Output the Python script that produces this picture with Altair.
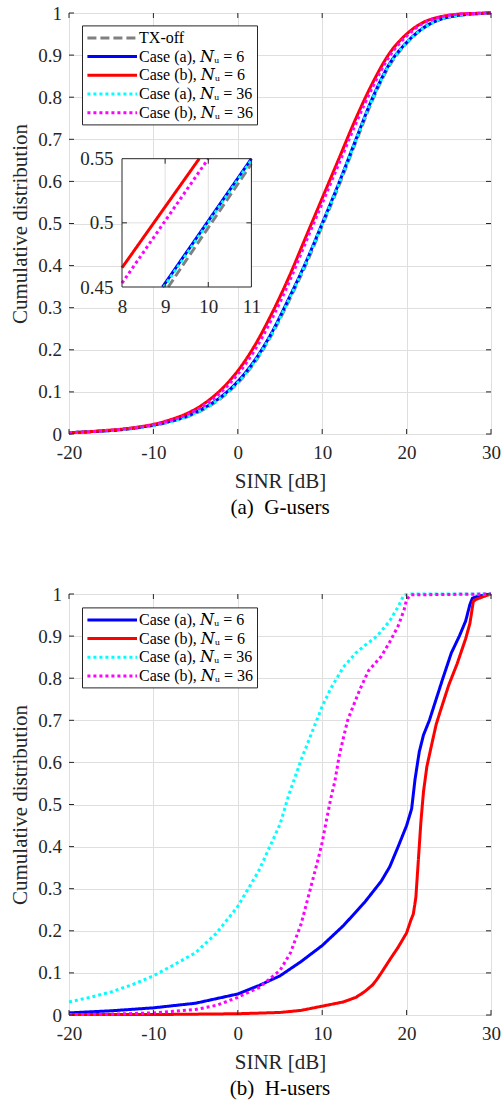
import altair as alt
import pandas as pd

# ---------------- values ----------------
X_TICKS = [-20, -10, 0, 10, 20, 30]
Y_TICKS = [0, 0.1, 0.2, 0.3, 0.4, 0.5, 0.6, 0.7, 0.8, 0.9, 1]
INSET_X_TICKS = [8, 9, 10, 11]
INSET_Y_TICKS = [0.45, 0.5, 0.55]

S_TX = "TX-off"
S_A6 = "Case (a), 𝑁ᵤ = 6"
S_B6 = "Case (b), 𝑁ᵤ = 6"
S_A36 = "Case (a), 𝑁ᵤ = 36"
S_B36 = "Case (b), 𝑁ᵤ = 36"

# (a) G-users : CDF values on a common SINR grid
G_X = [-20, -18, -16, -14, -12, -10, -8, -6, -4, -2, 0, 2, 4, 6, 8, 10,
       12, 14, 16, 18, 20, 22, 24, 26, 28, 30]
G_TXOFF = [0.003, 0.005, 0.007, 0.010, 0.014, 0.020, 0.029, 0.041, 0.059, 0.085,
           0.121, 0.170, 0.235, 0.314, 0.399, 0.494, 0.591, 0.694, 0.795, 0.876,
           0.928, 0.964, 0.985, 0.994, 0.998, 1.0]
G_A6 = [0.003, 0.005, 0.007, 0.010, 0.015, 0.021, 0.030, 0.043, 0.062, 0.088,
        0.125, 0.175, 0.240, 0.320, 0.405, 0.500, 0.597, 0.700, 0.800, 0.880,
        0.930, 0.965, 0.985, 0.994, 0.998, 1.0]
G_B6 = [0.003, 0.005, 0.008, 0.011, 0.016, 0.023, 0.034, 0.049, 0.072, 0.105,
        0.150, 0.210, 0.285, 0.370, 0.465, 0.560, 0.655, 0.750, 0.835, 0.905,
        0.950, 0.978, 0.991, 0.997, 0.999, 1.0]
G_A36 = [0.003, 0.005, 0.007, 0.010, 0.014, 0.020, 0.029, 0.042, 0.060, 0.086,
         0.122, 0.172, 0.237, 0.317, 0.403, 0.498, 0.595, 0.698, 0.798, 0.878,
         0.929, 0.964, 0.985, 0.994, 0.998, 1.0]
G_B36 = [0.003, 0.005, 0.007, 0.011, 0.015, 0.022, 0.032, 0.046, 0.068, 0.099,
         0.142, 0.199, 0.272, 0.357, 0.453, 0.548, 0.643, 0.738, 0.825, 0.898,
         0.945, 0.976, 0.990, 0.997, 0.999, 1.0]

# inset of (a): zoom 8..11 dB, 0.45..0.55
IN_TX_X = [9.07, 11.0]
IN_TX_F = [0.45, 0.546]
IN_A6_X = [8.94, 11.0]
IN_A6_F = [0.45, 0.55]
IN_B6_X = [8.0, 9.79]
IN_B6_F = [0.465, 0.55]
IN_A36_X = [8.97, 11.0]
IN_A36_F = [0.45, 0.549]
IN_B36_X = [8.0, 10.0]
IN_B36_F = [0.453, 0.55]

# (b) H-users
H_A6_X = [-20, -15, -10, -5, 0, 2.5, 5, 7.5, 10, 12.5, 15, 17, 18, 19, 20, 20.6,
          21.0, 21.5, 22.0, 22.7, 24.3, 25.3, 26.25, 27.0, 27.5, 27.8, 28.5, 30]
H_A6_F = [0.005, 0.010, 0.017, 0.028, 0.050, 0.070, 0.093, 0.127, 0.165, 0.212,
          0.267, 0.318, 0.352, 0.400, 0.450, 0.490, 0.560, 0.625, 0.665, 0.700,
          0.800, 0.860, 0.900, 0.936, 0.975, 0.990, 0.995, 1.0]
H_B6_X = [-20, -10, 0, 5, 7.5, 10, 12.5, 14, 15, 16, 16.5, 17, 18, 19, 20, 20.5,
          20.8, 21.1, 21.4, 21.7, 22.0, 22.4, 23.0, 23.5, 24, 25, 26, 27, 27.5,
          27.9, 28.2, 29, 30]
H_B6_F = [0.001, 0.001, 0.003, 0.006, 0.011, 0.021, 0.031, 0.042, 0.055, 0.072,
          0.085, 0.100, 0.131, 0.161, 0.195, 0.225, 0.240, 0.280, 0.370, 0.460,
          0.530, 0.590, 0.645, 0.690, 0.722, 0.784, 0.835, 0.894, 0.930, 0.982,
          0.987, 0.993, 1.0]
H_A36_X = [-20, -17.5, -15, -12.5, -10, -7.5, -5, -2.5, 0, 2.5, 5, 6, 7.5, 8.5, 10,
           11, 12.5, 14, 15, 16.5, 18, 19, 19.7, 20.5, 30]
H_A36_F = [0.031, 0.042, 0.055, 0.072, 0.093, 0.120, 0.148, 0.195, 0.258, 0.343,
           0.453, 0.520, 0.606, 0.657, 0.733, 0.775, 0.826, 0.860, 0.877, 0.900,
           0.936, 0.970, 0.998, 1.0, 1.0]
H_B36_X = [-20, -15, -10, -5, -2.5, 0, 2.5, 5, 6.25, 7.5, 8.5, 9.5, 10, 10.5, 11,
           11.5, 12, 12.5, 13, 13.5, 14.5, 15.5, 17, 18, 19, 19.7, 20, 20.5, 30]
H_B36_F = [0.001, 0.002, 0.005, 0.013, 0.023, 0.042, 0.065, 0.106, 0.148, 0.216,
           0.292, 0.369, 0.410, 0.462, 0.513, 0.555, 0.614, 0.657, 0.699, 0.725,
           0.775, 0.818, 0.852, 0.886, 0.924, 0.962, 0.987, 0.998, 1.0]

# ---------------- styles ----------------
SERIF = "Liberation Serif"
LEG_FONT = "Liberation Serif, DejaVu Serif"
INK = "#262626"
GRID = "#dfdfdf"
COLOR = {S_TX: "#808080", S_A6: "#0000ff", S_B6: "#ff0000",
         S_A36: "#00ffff", S_B36: "#ff00ff"}
DASH = {S_TX: [9, 4], S_A6: [1, 0], S_B6: [1, 0], S_A36: [3, 3], S_B36: [3, 3]}
LW = 3
PLOT_W, PLOT_H = 422, 421
TICK_PX = 5
LABEL_FS = 19
TITLE_FS = 21
# inset rectangle inside panel (a), pixels from plot origin
IN_L, IN_R, IN_T, IN_B = 53, 182.4, 145.7, 274


def long_df(items):
    rows = []
    for name, xs, fs in items:
        for x, f in zip(xs, fs):
            rows.append({"series": name, "x": x, "F": f})
    return pd.DataFrame(rows)


def edge_ticks(xt, yt, xd, yd, w, h):
    xl = TICK_PX * (xd[1] - xd[0]) / w
    yl = TICK_PX * (yd[1] - yd[0]) / h
    rows = []
    for t in xt:
        rows.append({"x": t, "x2": t, "y": yd[0], "y2": yd[0] + yl})
        rows.append({"x": t, "x2": t, "y": yd[1], "y2": yd[1] - yl})
    for t in yt:
        rows.append({"x": xd[0], "x2": xd[0] + xl, "y": t, "y2": t})
        rows.append({"x": xd[1], "x2": xd[1] - xl, "y": t, "y2": t})
    return pd.DataFrame(rows)


def make_legend(y):
    return alt.Legend(
        title=None, orient="none", legendX=13, legendY=y,
        symbolType="M-3.2,0H3.2", symbolSize=240, symbolStrokeWidth=LW,
        symbolOffset=17.7, labelOffset=17.4,
        labelFont=LEG_FONT, labelFontSize=16, labelColor="black",
        strokeColor=INK, fillColor="white", padding=3, rowPadding=0.7,
        cornerRadius=0, labelLimit=0,
    )


def axis(values, **kw):
    return alt.Axis(values=values, domain=False, ticks=False, tickSize=0,
                    labelFlush=False, labelOverlap=False,
                    labelExpr="'' + datum.value",
                    labelFont=SERIF, labelFontSize=LABEL_FS, labelColor=INK,
                    titleFont=SERIF, titleFontSize=TITLE_FS,
                    titleFontWeight="normal", titleColor=INK, **kw)


def main_layer(df, series, legend, interp):
    xs = alt.Scale(domain=[X_TICKS[0], X_TICKS[-1]], nice=False, zero=False)
    ys = alt.Scale(domain=[Y_TICKS[0], Y_TICKS[-1]], nice=False, zero=False)
    cs = alt.Scale(domain=series, range=[COLOR[s] for s in series])
    ds = alt.Scale(domain=series, range=[DASH[s] for s in series])
    x_axis = axis(X_TICKS, title="SINR [dB]", grid=True, gridColor=GRID,
                  labelPadding=9, titlePadding=8)
    y_axis = axis(Y_TICKS, title="Cumulative distribution", grid=True,
                  gridColor=GRID, labelPadding=7.6, titlePadding=7)
    lines = alt.Chart(df).mark_line(strokeWidth=LW, strokeCap="butt",
                                    interpolate=interp).encode(
        x=alt.X("x:Q", scale=xs, axis=x_axis),
        y=alt.Y("F:Q", scale=ys, axis=y_axis),
        color=alt.Color("series:N", scale=cs, legend=legend),
        strokeDash=alt.StrokeDash("series:N", scale=ds, legend=legend),
    )
    ticks = alt.Chart(edge_ticks(X_TICKS, Y_TICKS, [X_TICKS[0], X_TICKS[-1]],
                                 [Y_TICKS[0], Y_TICKS[-1]], PLOT_W, PLOT_H)
                      ).mark_rule(color=INK, strokeWidth=1).encode(
        x=alt.X("x:Q", scale=xs, axis=x_axis), x2="x2:Q",
        y=alt.Y("y:Q", scale=ys, axis=y_axis), y2="y2:Q",
    )
    return alt.layer(lines, ticks), cs, ds


def inset_layer(cs, ds):
    xd = [INSET_X_TICKS[0], INSET_X_TICKS[-1]]
    yd = [INSET_Y_TICKS[0], INSET_Y_TICKS[-1]]
    xs = alt.Scale(domain=xd, range=[IN_L, IN_R], nice=False, zero=False)
    ys = alt.Scale(domain=yd, range=[IN_B, IN_T], nice=False, zero=False)
    box = pd.DataFrame({"x0": [xd[0]], "x1": [xd[1]], "y0": [yd[0]], "y1": [yd[1]]})
    ix_axis = axis(INSET_X_TICKS, orient="bottom", offset=IN_B - PLOT_H,
                   title=None, grid=False, labelPadding=10)
    iy_axis = axis(INSET_Y_TICKS, orient="left", offset=-IN_L,
                   title=None, grid=False, labelPadding=9)

    def enc(ch, xf, x2f, yf, y2f):
        return ch.encode(
            x=alt.X(xf, scale=xs, axis=ix_axis), x2=x2f,
            y=alt.Y(yf, scale=ys, axis=iy_axis), y2=y2f)

    bg = enc(alt.Chart(box).mark_rect(fill="white"), "x0:Q", "x1:Q", "y0:Q", "y1:Q")
    grid_rows = []
    for t in INSET_X_TICKS[1:-1]:
        grid_rows.append({"x": t, "x2": t, "y": yd[0], "y2": yd[1]})
    for t in INSET_Y_TICKS[1:-1]:
        grid_rows.append({"x": xd[0], "x2": xd[1], "y": t, "y2": t})
    grid = enc(alt.Chart(pd.DataFrame(grid_rows)).mark_rule(color=GRID, strokeWidth=1),
               "x:Q", "x2:Q", "y:Q", "y2:Q")
    idf = long_df([(S_TX, IN_TX_X, IN_TX_F), (S_A6, IN_A6_X, IN_A6_F),
                   (S_B6, IN_B6_X, IN_B6_F), (S_A36, IN_A36_X, IN_A36_F),
                   (S_B36, IN_B36_X, IN_B36_F)])
    lines = alt.Chart(idf).mark_line(strokeWidth=LW, strokeCap="butt").encode(
        x=alt.X("x:Q", scale=xs, axis=ix_axis),
        y=alt.Y("F:Q", scale=ys, axis=iy_axis),
        color=alt.Color("series:N", scale=cs, legend=None),
        strokeDash=alt.StrokeDash("series:N", scale=ds, legend=None),
    )
    ticks = enc(alt.Chart(edge_ticks(INSET_X_TICKS[1:-1], INSET_Y_TICKS[1:-1], xd, yd,
                                     IN_R - IN_L, IN_B - IN_T)
                          ).mark_rule(color=INK, strokeWidth=1),
                "x:Q", "x2:Q", "y:Q", "y2:Q")
    border = enc(alt.Chart(box).mark_rect(fillOpacity=0, stroke=INK, strokeWidth=1),
                 "x0:Q", "x1:Q", "y0:Q", "y1:Q")
    return alt.layer(bg, grid, lines, ticks, border)


def caption(text):
    return alt.TitleParams(text=text, orient="bottom", anchor="middle", frame="group",
                           font=SERIF, fontSize=TITLE_FS, fontWeight="normal",
                           color="black", offset=6)


# panel (a)
series_a = [S_TX, S_A6, S_B6, S_A36, S_B36]
df_a = long_df([(S_TX, G_X, G_TXOFF), (S_A6, G_X, G_A6), (S_B6, G_X, G_B6),
                (S_A36, G_X, G_A36), (S_B36, G_X, G_B36)])
main_a, cs_a, ds_a = main_layer(df_a, series_a, make_legend(12.4), "monotone")
panel_a = alt.layer(main_a, inset_layer(cs_a, ds_a)).resolve_scale(
    x="independent", y="independent"
).properties(width=PLOT_W, height=PLOT_H, title=caption("(a)\u00a0 G-users"))

# panel (b)
series_b = [S_A6, S_B6, S_A36, S_B36]
df_b = long_df([(S_A6, H_A6_X, H_A6_F), (S_B6, H_B6_X, H_B6_F),
                (S_A36, H_A36_X, H_A36_F), (S_B36, H_B36_X, H_B36_F)])
main_b, _, _ = main_layer(df_b, series_b, make_legend(13.4), "linear")
panel_b = main_b.properties(width=PLOT_W, height=PLOT_H,
                            title=caption("(b)\u00a0 H-users"))

chart = alt.vconcat(panel_a, panel_b, spacing=65).resolve_scale(
    color="independent", strokeDash="independent"
).resolve_legend(color="independent", strokeDash="independent").properties(
    padding={"left": 9, "top": 3, "right": 0, "bottom": 0}
).configure_view(stroke=INK, strokeWidth=1)

chart.save("out.html", embed_options={"renderer": "svg", "actions": False})
